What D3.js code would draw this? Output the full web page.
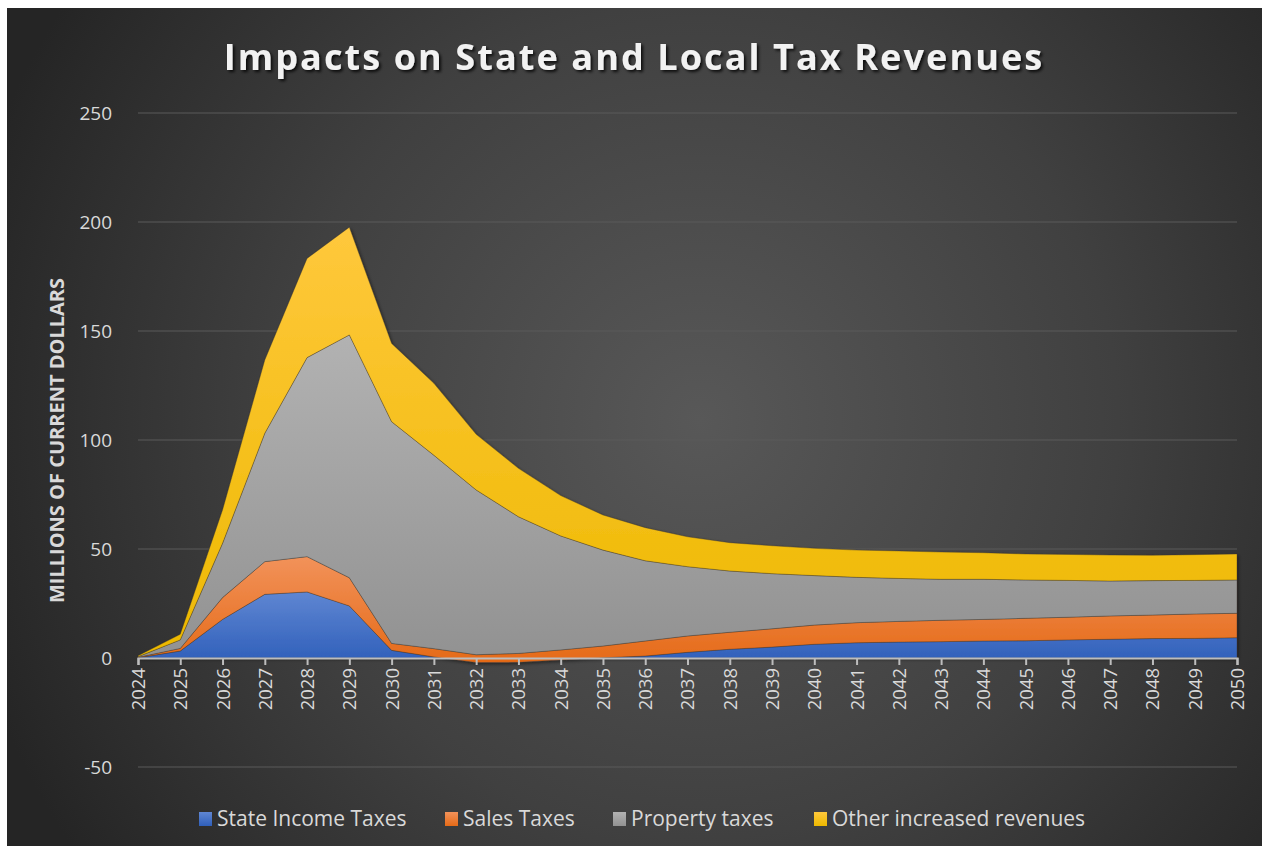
<!DOCTYPE html>
<html>
<head>
<meta charset="utf-8">
<script src="https://cdn.jsdelivr.net/npm/d3@7"></script>
<style>
  html, body { margin: 0; padding: 0; background: #ffffff; }
  svg { display: block; }
</style>
</head>
<body>
<svg id="chart" width="1266" height="851"></svg>
<script>
// Years on the category axis
const years = [2024, 2025, 2026, 2027, 2028, 2029, 2030, 2031, 2032, 2033, 2034, 2035, 2036,
  2037, 2038, 2039, 2040, 2041, 2042, 2043, 2044, 2045, 2046, 2047, 2048, 2049, 2050];

// Revenue impacts, millions of current dollars
const stateIncomeTaxes = [0.1, 3.2, 17.7, 29.2, 30.3, 23.9, 3.5, 0.5, -2.1, -2.0, -0.9, 0.1, 0.9,
  2.6, 4.0, 5.0, 6.3, 7.0, 7.3, 7.5, 7.8, 7.9, 8.3, 8.6, 8.9, 9.0, 9.3];
const salesTaxes = [0.2, 1.2, 10.0, 15.0, 16.2, 12.9, 3.2, 3.8, 3.6, 4.1, 4.6, 5.4, 6.9,
  7.5, 7.8, 8.4, 8.8, 9.2, 9.5, 9.8, 9.9, 10.3, 10.4, 10.7, 10.8, 11.2, 11.2];
const propertyTaxes = [0.3, 3.9, 24.9, 58.9, 91.3, 111.4, 101.7, 88.7, 75.6, 62.7, 52.3, 44.0, 36.8,
  31.8, 28.1, 25.3, 22.7, 20.8, 19.7, 18.8, 18.4, 17.6, 16.9, 16.0, 15.8, 15.4, 15.3];
const otherRevenues = [0.4, 2.6, 15.3, 33.6, 45.5, 49.4, 35.9, 33.0, 25.5, 22.2, 18.5, 16.1, 15.2,
  13.7, 13.0, 12.8, 12.5, 12.5, 12.6, 12.5, 12.2, 11.9, 11.9, 11.9, 11.6, 11.8, 11.9];

const seriesNames = ["State Income Taxes", "Sales Taxes", "Property taxes", "Other increased revenues"];
const yTicks = [-50, 0, 50, 100, 150, 200, 250];

// Fill colours: [top of gradient, bottom of gradient]
const seriesColors = [
  ["#5f86d2", "#2f5fba"],
  ["#f2925a", "#e56a17"],
  ["#b2b2b2", "#929292"],
  ["#ffc83c", "#edb900"]
];

const rows = years.map((y, i) => ({
  year: y,
  s0: stateIncomeTaxes[i],
  s1: salesTaxes[i],
  s2: propertyTaxes[i],
  s3: otherRevenues[i]
}));

const svg = d3.select("#chart");
const W = 1266, H = 851;
const frame = { x: 7, y: 8, w: 1255, h: 838 };
const plot = { left: 138, right: 1237, top: 113, bottom: 767 };
const FONT = "'Open Sans', sans-serif";

const defs = svg.append("defs");

// Background: dark panel, lighter toward the middle
const bg = defs.append("radialGradient").attr("id", "bgGrad")
  .attr("gradientUnits", "userSpaceOnUse")
  .attr("cx", 700).attr("cy", 420).attr("r", 760);
bg.append("stop").attr("offset", "0").attr("stop-color", "#585858");
bg.append("stop").attr("offset", "0.55").attr("stop-color", "#404040");
bg.append("stop").attr("offset", "1").attr("stop-color", "#252525");

seriesColors.forEach((c, i) => {
  const g = defs.append("linearGradient").attr("id", "fill" + i)
    .attr("x1", 0).attr("y1", 0).attr("x2", 0).attr("y2", 1);
  g.append("stop").attr("offset", "0").attr("stop-color", c[0]);
  g.append("stop").attr("offset", "1").attr("stop-color", c[1]);
});

// Soft shadow under the areas and the title
const sh = defs.append("filter").attr("id", "areaShadow")
  .attr("x", "-5%").attr("y", "-5%").attr("width", "110%").attr("height", "110%");
sh.append("feDropShadow").attr("dx", 1.5).attr("dy", 1.5).attr("stdDeviation", 1.5)
  .attr("flood-color", "#000").attr("flood-opacity", 0.45);

const tsh = defs.append("filter").attr("id", "titleShadow")
  .attr("x", "-5%").attr("y", "-20%").attr("width", "110%").attr("height", "140%");
tsh.append("feDropShadow").attr("dx", 2).attr("dy", 2).attr("stdDeviation", 1.6)
  .attr("flood-color", "#000").attr("flood-opacity", 0.8);

svg.append("rect").attr("width", W).attr("height", H).attr("fill", "#ffffff");
svg.append("rect")
  .attr("x", frame.x).attr("y", frame.y).attr("width", frame.w).attr("height", frame.h)
  .attr("fill", "url(#bgGrad)");

const x = d3.scalePoint().domain(years).range([plot.left, plot.right]);
const y = d3.scaleLinear().domain([-50, 250]).range([plot.bottom, plot.top]);

// Gridlines
svg.append("g")
  .selectAll("line")
  .data(yTicks.filter(t => t !== 0))
  .join("line")
  .attr("x1", plot.left).attr("x2", plot.right)
  .attr("y1", d => y(d)).attr("y2", d => y(d))
  .attr("stroke", "#5a5a5a").attr("stroke-width", 1.2);

// Stacked areas
const stack = d3.stack().keys(["s0", "s1", "s2", "s3"]).offset(d3.stackOffsetNone);
const stacked = stack(rows);

const area = d3.area()
  .x(d => x(d.data.year))
  .y0(d => y(d[0]))
  .y1(d => y(d[1]));

svg.append("g")
  .attr("filter", "url(#areaShadow)")
  .selectAll("path")
  .data(stacked)
  .join("path")
  .attr("d", area)
  .attr("fill", (d, i) => `url(#fill${i})`)
  .attr("stroke", "rgba(60,50,40,0.45)")
  .attr("stroke-width", 0.8)
  .attr("stroke-linejoin", "round");

// Category axis at zero
const xAxis = d3.axisBottom(x).tickSize(7).tickPadding(4).tickFormat(d3.format("d"));
const xg = svg.append("g")
  .attr("transform", `translate(0,${y(0)})`)
  .call(xAxis);
xg.select(".domain").attr("stroke", "#bdbdbd").attr("stroke-width", 2.2);
xg.selectAll(".tick line").attr("stroke", "#bdbdbd").attr("stroke-width", 2);
xg.selectAll(".tick text")
  .attr("fill", "#d9d9d9")
  .attr("font-family", FONT)
  .attr("font-size", 18.5)
  .attr("text-anchor", "end")
  .attr("dy", "0.35em")
  .attr("transform", "translate(0,8) rotate(-90)")
  .attr("x", -2).attr("y", 0);

// Value axis labels (plain hyphen for negatives)
const yAxis = d3.axisLeft(y).tickValues(yTicks).tickSize(0).tickPadding(0)
  .tickFormat(d => String(d));
const yg = svg.append("g")
  .attr("transform", `translate(112,0)`)
  .call(yAxis);
yg.select(".domain").remove();
yg.selectAll(".tick text")
  .attr("fill", "#d9d9d9")
  .attr("font-family", FONT)
  .attr("font-size", 19);

// Axis title
svg.append("text")
  .attr("transform", `translate(64,${(277 + 604) / 2}) rotate(-90)`)
  .attr("text-anchor", "middle")
  .attr("fill", "#d9d9d9")
  .attr("font-family", FONT)
  .attr("font-weight", "bold")
  .attr("font-size", 20)
  .text("MILLIONS OF CURRENT DOLLARS");

// Title
svg.append("text")
  .attr("x", 634).attr("y", 70)
  .attr("text-anchor", "middle")
  .attr("fill", "#f2f2f2")
  .attr("font-family", FONT)
  .attr("font-weight", "bold")
  .attr("font-size", 36)
  .attr("letter-spacing", 2.1)
  .attr("filter", "url(#titleShadow)")
  .text("Impacts on State and Local Tax Revenues");

// Legend
const legendX = [199, 445, 613, 814];
const lg = svg.append("g");
seriesNames.forEach((name, i) => {
  const g = lg.append("g").attr("transform", `translate(${legendX[i]},819)`);
  g.append("rect").attr("x", 0).attr("y", -7).attr("width", 13).attr("height", 14)
    .attr("fill", `url(#fill${i})`);
  g.append("text").attr("x", 18).attr("y", 0).attr("dy", "0.35em")
    .attr("fill", "#d9d9d9")
    .attr("font-family", FONT)
    .attr("font-size", 21)
    .text(name);
});
</script>
</body>
</html>
